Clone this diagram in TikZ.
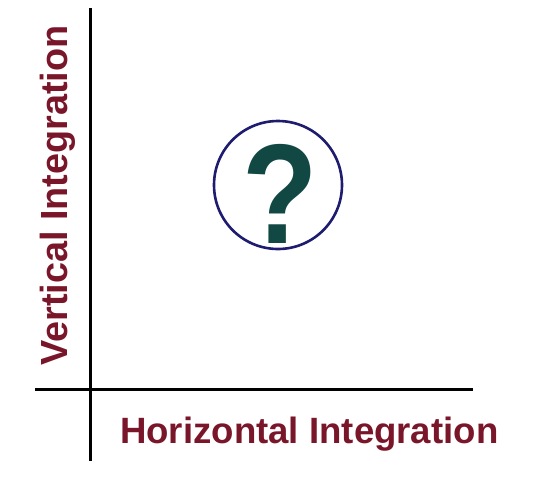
\documentclass[tikz,border=0pt]{standalone}
\usepackage{fontspec}
\setmainfont{Liberation Sans}
\usepackage{xcolor}
\definecolor{axislabel}{RGB}{122,22,42}
\definecolor{ringblue}{RGB}{30,28,110}
\definecolor{querygreen}{RGB}{18,72,68}
\tikzset{
  axis/.style={line width=3pt, black},
  axislab/.style={inner sep=0pt, text=axislabel, font=\bfseries\fontsize{36.6}{36.6}\selectfont},
  ring/.style={circle, draw=ringblue, line width=2.6pt, minimum size=128pt, inner sep=0pt},
}

\begin{document}
\begin{tikzpicture}[x=1pt, y=-1pt]
	\useasboundingbox (0,0) rectangle (535,480);
	% Define nodes
	\coordinate (ytop) at (90,8);
	\coordinate (ybot) at (90,461);
	\coordinate (xleft) at (35,389);
	\coordinate (xright) at (473,389);
	\node[ring] (circ) at (278,185) {};
	\node[inner sep=0pt, anchor=base, xscale=0.87, text=querygreen, font=\bfseries\fontsize{142}{142}\selectfont] (query) at (280,243) {?};
	\node[axislab, anchor=base west] (hlab) at (120,443) {Horizontal Integration};
	\node[axislab, anchor=base west, rotate=90, font=\bfseries\fontsize{37.8}{37.8}\selectfont] (vlab) at (67,366) {Vertical Integration};
	% Axes
	\draw[axis] (ytop) -- (ybot);
	\draw[axis] (xleft) -- (xright);
\end{tikzpicture}
\end{document}
